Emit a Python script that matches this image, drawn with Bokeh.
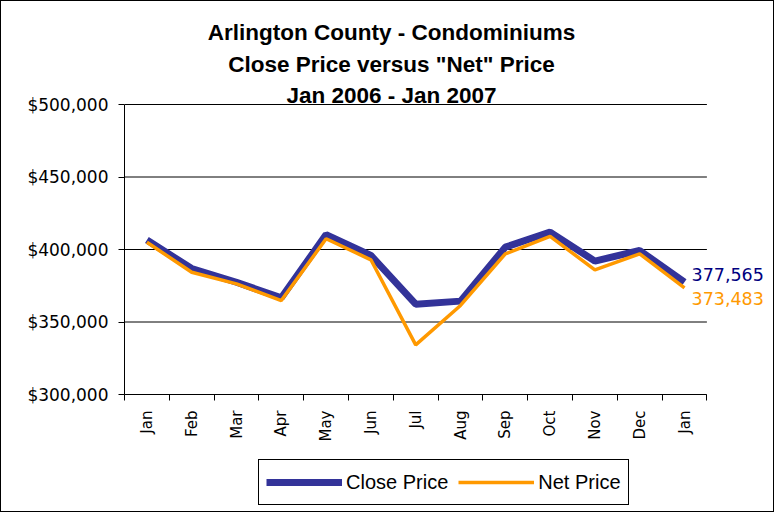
from bokeh.plotting import figure
from bokeh.layouts import column
from bokeh.models import (FixedTicker, NumeralTickFormatter, Label, Range1d, ColumnDataSource,
                          Legend, LegendItem)
from bokeh.embed import file_html
from bokeh.resources import INLINE
import math

months = ["Jan", "Feb", "Mar", "Apr", "May", "Jun", "Jul", "Aug", "Sep", "Oct", "Nov", "Dec", "Jan"]
close_price = [406500, 386900, 377400, 366700, 410300, 395900, 362300, 364400, 401600, 412000, 392000, 399300, 377565]
net_price = [405000, 384300, 376300, 364800, 407400, 392900, 334200, 361400, 397000, 409000, 386000, 397000, 373483]
y_ticks = [300000, 350000, 400000, 450000, 500000]
title_lines = ["Arlington County - Condominiums", 'Close Price versus "Net" Price', "Jan 2006 - Jan 2007"]
series_names = ["Close Price", "Net Price"]
series_colors = ["#333399", "#FF9900"]
series_widths = [7, 3.5]

n = len(months)
xs = [i + 0.5 for i in range(n)]
src = ColumnDataSource(dict(x=xs, close=close_price, net=net_price))
grid_src = ColumnDataSource(dict(x0=[0] * len(y_ticks), x1=[n] * len(y_ticks), y=y_ticks))

W, H = 772, 452
LH = 58
FL, FR, FT, FB = 123, 0, 0, 59
frame_w = W - FL - FR
frame_h = H - FT - FB
PX_X = 44.8            # pixels per category
PX_Y = 290 / (y_ticks[-1] - y_ticks[0])  # pixels per dollar

p = figure(width=W, height=H, output_backend="svg", toolbar_location=None,
           x_range=Range1d(0, frame_w / PX_X),
           y_range=Range1d(y_ticks[0], y_ticks[0] + frame_h / PX_Y),
           min_border_left=FL, min_border_right=FR, min_border_top=FT, min_border_bottom=FB)
p.outline_line_color = None
p.background_fill_color = "white"
p.border_fill_color = "white"
p.xgrid.grid_line_color = None
p.ygrid.grid_line_color = None

# x axis
p.xaxis.bounds = (0, n)
p.xaxis.ticker = FixedTicker(ticks=xs, minor_ticks=list(range(n + 1)))
p.xaxis.major_label_overrides = {x: m for x, m in zip(xs, months)}
p.xaxis.major_label_orientation = math.pi / 2
p.xaxis.major_tick_out = 6
p.xaxis.major_tick_in = 0
p.xaxis.major_tick_line_color = None
p.xaxis.minor_tick_out = 6
p.xaxis.minor_tick_in = 0
p.xaxis.minor_tick_line_color = "black"
p.xaxis.major_label_text_font = "DejaVu Sans"
p.xaxis.major_label_text_font_size = "15px"
p.xaxis.major_label_text_color = "black"
p.xaxis.axis_line_color = "black"
p.xaxis.major_label_standoff = 10

# y axis
p.yaxis.bounds = (y_ticks[0], y_ticks[-1])
p.yaxis.ticker = FixedTicker(ticks=y_ticks, minor_ticks=[])
p.yaxis.formatter = NumeralTickFormatter(format="$0,0")
p.yaxis.major_label_text_font = "DejaVu Sans"
p.yaxis.major_label_text_font_size = "17px"
p.yaxis.major_label_text_color = "black"
p.yaxis.major_tick_out = 6
p.yaxis.major_tick_in = 0
p.yaxis.axis_line_color = "black"
p.yaxis.major_tick_line_color = "black"
p.yaxis.major_label_standoff = 10

# horizontal gridlines spanning the category area only
p.segment(x0="x0", x1="x1", y0="y", y1="y", source=grid_src, line_color="black", line_width=1)

p.line("x", "close", source=src, line_color=series_colors[0], line_width=series_widths[0])
p.line("x", "net", source=src, line_color=series_colors[1], line_width=series_widths[1])

# end labels
p.add_layout(Label(x=xs[-1], y=close_price[-1], text=f"{close_price[-1]:,}", x_offset=7, y_offset=8,
                   text_baseline="middle", text_font="DejaVu Sans", text_font_size="17.5px",
                   text_color="#000080"))
p.add_layout(Label(x=xs[-1], y=net_price[-1], text=f"{net_price[-1]:,}", x_offset=7, y_offset=-11,
                   text_baseline="middle", text_font="DejaVu Sans", text_font_size="17.5px",
                   text_color="#FF9900"))

# titles (screen units measured from the frame's bottom-left corner)
title_y = [362 - (393 - frame_h), 330.5 - (393 - frame_h), 299 - (393 - frame_h)]
for t, ty in zip(title_lines, title_y):
    p.add_layout(Label(x=267, y=ty, x_units="screen", y_units="screen",
                       text=t, text_align="center", text_baseline="middle",
                       text_font="Liberation Sans", text_font_style="bold", text_font_size="22.5px",
                       text_color="black"))

# legend strip (same frame alignment as the chart above)
lf = figure(width=W, height=LH, output_backend="svg", toolbar_location=None,
            x_range=Range1d(-2, -1), y_range=Range1d(-2, -1), x_axis_type=None, y_axis_type=None,
            min_border_left=FL, min_border_right=FR, min_border_top=0, min_border_bottom=0)
lf.outline_line_color = None
lf.xgrid.grid_line_color = None
lf.ygrid.grid_line_color = None
lf.background_fill_color = "white"
lf.border_fill_color = "white"
lsrc = ColumnDataSource(dict(x=xs, close=close_price, net=net_price))
items = []
for name, col_name, c, w in zip(series_names, ["close", "net"], series_colors, series_widths):
    r = lf.line("x", col_name, source=lsrc, line_color=c, line_width=w)
    items.append(LegendItem(label=name, renderers=[r]))
legend = Legend(items=items, orientation="horizontal", location=(257 - FL, 6))
legend.glyph_width = 76
legend.glyph_height = 30
legend.label_text_font = "Liberation Sans"
legend.label_text_font_size = "20px"
legend.label_text_color = "black"
legend.border_line_color = "black"
legend.border_line_width = 1
legend.border_line_alpha = 1
legend.padding = 7
legend.spacing = 10
legend.margin = 0
legend.label_standoff = 4
legend.background_fill_alpha = 1
lf.add_layout(legend)

layout = column(p, lf, spacing=0, styles={"border": "1px solid black", "background-color": "white"})

open("out.html", "w").write(file_html(layout, INLINE))
